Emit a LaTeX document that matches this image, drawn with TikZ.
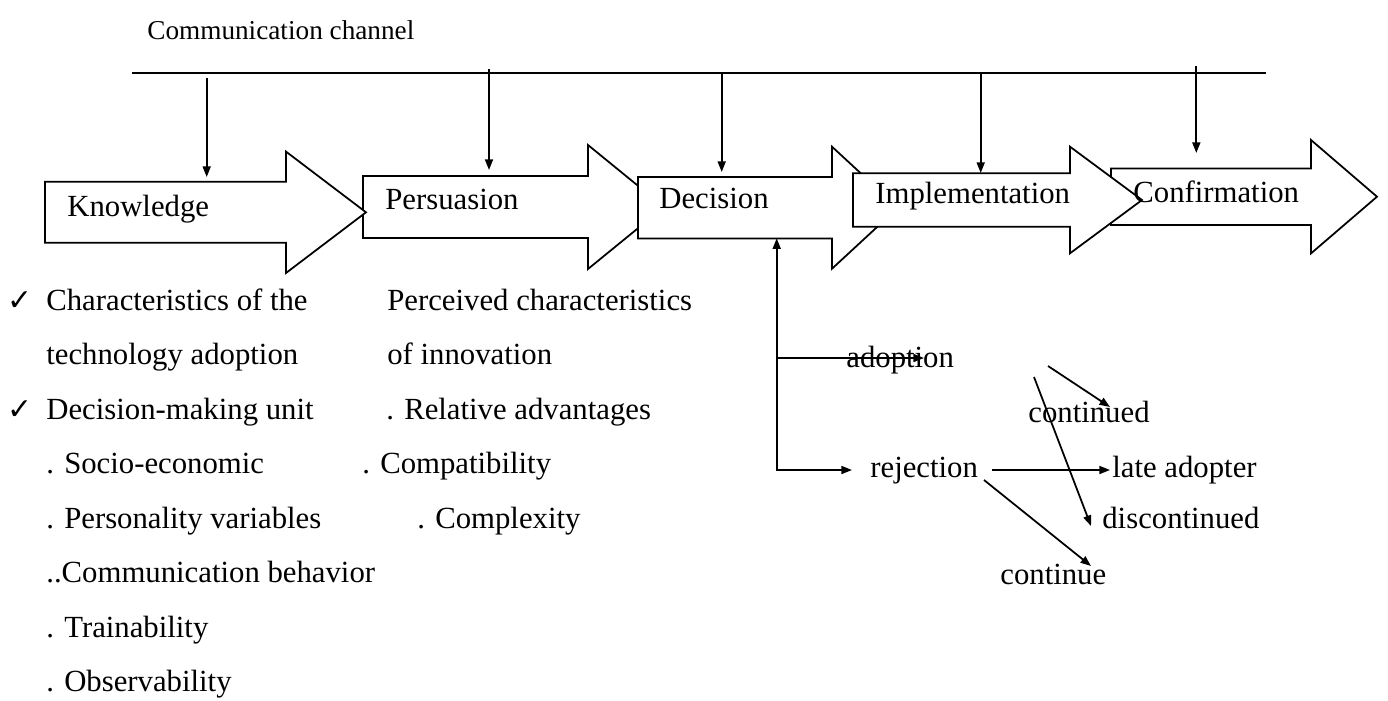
\documentclass[tikz,border=0pt]{standalone}
\usepackage{fontspec}
\setmainfont{Liberation Serif}
\newfontfamily\symfont{DejaVu Sans}
\usetikzlibrary{arrows.meta}

\newcommand{\chk}{\llap{{\fontsize{17}{17}\selectfont\symfont ✓}\hspace{0.28cm}}}
% block arrow: left, shaft end, tip, centre y, half shaft, half head
\newcommand{\stagearrow}[6]{%
  \draw[stage] (#1,#4-#5) -- (#2,#4-#5) -- (#2,#4-#6) -- (#3,#4) -- (#2,#4+#6) -- (#2,#4+#5) -- (#1,#4+#5) -- cycle;}

\begin{document}
\begin{tikzpicture}[x=0.02cm, y=-0.02cm,
  stage/.style={draw, fill=white, line width=1pt},
  txt/.style={anchor=base west, inner sep=0pt, font=\fontsize{17.5}{20}\selectfont},
  feed/.style={line width=1pt, -{Triangle[length=6pt, width=4.5pt]}},
  twoway/.style={line width=1pt, {Triangle[length=6pt, width=4.5pt]}-{Triangle[length=6pt, width=4.5pt]}}]

\useasboundingbox (0,0) rectangle (1388,700);

% stages
\stagearrow{363}{588}{664}{207}{31}{62}
\stagearrow{45}{286}{366}{212.3}{30.5}{60.7}
\stagearrow{638}{832}{898}{207.7}{30.7}{61}
\stagearrow{1111}{1311}{1377}{196.7}{28.3}{56.7}
\stagearrow{853}{1070}{1142}{200}{26.7}{53.3}

\node[txt, font=\fontsize{15.5}{18}\selectfont] (chan) at (147,39) {Communication channel};
\node[txt] (know) at (67,216) {Knowledge};
\node[txt] (pers) at (385,209) {Persuasion};
\node[txt] (deci) at (659,208) {Decision};
\node[txt] (impl) at (875,203) {Implementation};
\node[txt] (conf) at (1133,202) {Confirmation};

% channel line and its arrows
\coordinate (chan-w) at (132,72.7);
\coordinate (chan-e) at (1266,72.7);
\draw[line width=1pt] (chan-w) -- (chan-e);
\foreach \n/\x/\ya/\yb in {1/206.7/78/177, 2/489/69/170, 3/721.7/72.7/172, 4/980.7/74/173, 5/1196.3/66/153}{
  \coordinate (ch\n-a) at (\x,\ya);
  \coordinate (ch\n-b) at (\x,\yb);
  \draw[feed] (ch\n-a) -- (ch\n-b);
}

% lists under the stages
\foreach \t [count=\i from 0] in {{\chk Characteristics of the}, technology adoption,
  {\chk Decision-making unit}, . Socio-economic, . Personality variables,
  ..Communication behavior, . Trainability, . Observability}
  \node[txt] (left\i) at (46,310+54.5*\i) {\t};
\foreach \x/\t [count=\i from 0] in {387/Perceived characteristics, 387/of innovation,
  386/. Relative advantages, 362/. Compatibility, 417/. Complexity}
  \node[txt] (mid\i) at (\x,310+54.5*\i) {\t};

% decision outcomes
\node[txt] (adopt) at (846,367) {adoption};
\node[txt] (rej) at (870,477) {rejection};
\node[txt] (late) at (1112,477) {late adopter};
\node[txt] (cont) at (1028,422) {continued};
\node[txt] (disc) at (1102,528) {discontinued};
\node[txt] (goon) at (1000,584) {continue};

\coordinate (deci-out) at (776.7,238.3);
\coordinate (fork) at (776.7,470);
\coordinate (adopt-fork) at (776.7,358);
\coordinate (rej-in) at (852,470);
\coordinate (adopt-in) at (924,358);
\draw[twoway] (rej-in) -- (fork) -- (deci-out);
\draw[feed] (adopt-fork) -- (adopt-in);

\coordinate (cont-a) at (1048,366);
\coordinate (cont-b) at (1110,407);
\coordinate (disc-a) at (1034,377);
\coordinate (disc-b) at (1091,526);
\coordinate (late-a) at (992,470);
\coordinate (late-b) at (1110,470);
\coordinate (goon-a) at (984,480);
\coordinate (goon-b) at (1091,566);
\draw[feed] (cont-a) -- (cont-b);
\draw[feed] (disc-a) -- (disc-b);
\draw[feed] (late-a) -- (late-b);
\draw[feed] (goon-a) -- (goon-b);

\end{tikzpicture}
\end{document}
